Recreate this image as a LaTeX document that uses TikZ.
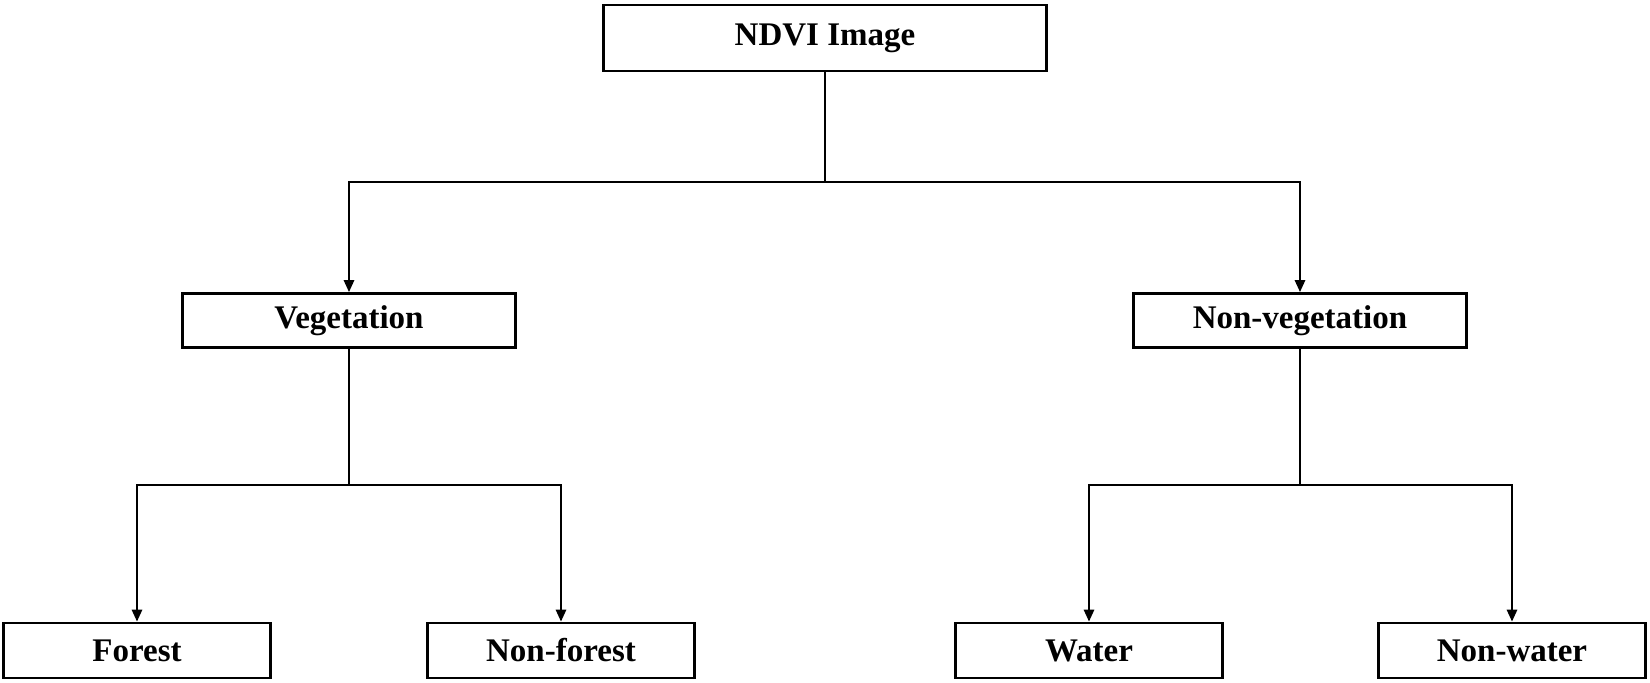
\documentclass[tikz,border=0pt]{standalone}
\usepackage{fontspec}
\setmainfont{Liberation Serif}
\usetikzlibrary{arrows.meta}
\begin{document}
\begin{tikzpicture}[x=1pt,y=-1pt,
  box/.style={draw=black, line width=2.6pt, fill=white, inner sep=0pt,
    font=\fontsize{33}{39}\selectfont\bfseries, text=black},
  conn/.style={draw=black, line width=2.6pt},
  arr/.style={conn, -{Triangle[length=12pt,width=10pt]}}]
\useasboundingbox[fill=white] (0,0) rectangle (1650,683);
\node[box, minimum width=443pt, minimum height=66pt] (ndvi) at (825,38) {NDVI Image};
\node[box, minimum width=333pt, minimum height=54pt] (veg) at (349,320.5) {Vegetation};
\node[box, minimum width=333pt, minimum height=54pt] (nveg) at (1300,320.5) {Non-vegetation};
\node[box, minimum width=267pt, minimum height=55pt] (forest) at (137,650.5) {Forest};
\node[box, minimum width=267pt, minimum height=55pt] (nforest) at (561,650.5) {Non-forest};
\node[box, minimum width=267pt, minimum height=55pt] (water) at (1089,650.5) {Water};
\node[box, minimum width=267pt, minimum height=55pt] (nwater) at (1512,650.5) {Non-water};
\coordinate (j1) at (825,182);
\coordinate (j2) at (349,485);
\coordinate (j3) at (1300,485);
\draw[conn] (ndvi.south) -- (j1);
\draw[arr] (j1) -| (veg.north);
\draw[arr] (j1) -| (nveg.north);
\draw[conn] (veg.south) -- (j2);
\draw[arr] (j2) -| (forest.north);
\draw[arr] (j2) -| (nforest.north);
\draw[conn] (nveg.south) -- (j3);
\draw[arr] (j3) -| (water.north);
\draw[arr] (j3) -| (nwater.north);
\end{tikzpicture}
\end{document}
